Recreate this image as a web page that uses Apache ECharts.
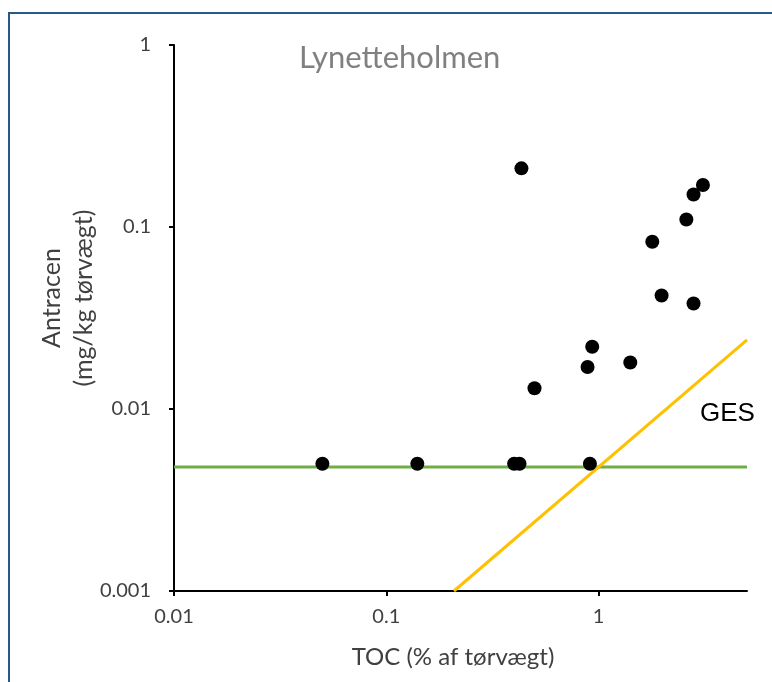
<!DOCTYPE html>
<html>
<head>
<meta charset="utf-8">
<script src="https://cdn.jsdelivr.net/npm/echarts@6/dist/echarts.min.js"></script>
<style>
html,body{margin:0;padding:0;background:#fff;}
#c{width:772px;height:682px;}
</style>
</head>
<body>
<div id="c"></div>
<script>
// Data
var tocValues = [0.05, 0.14, 0.40, 0.424, 0.91, 0.433, 0.499, 0.887, 0.933, 1.41, 1.79, 1.98, 2.59, 2.80, 2.80, 3.10];
var antracenValues = [0.005, 0.005, 0.005, 0.005, 0.005, 0.21, 0.013, 0.017, 0.022, 0.018, 0.083, 0.042, 0.11, 0.038, 0.151, 0.170];
var greenLineX = [0.01, 5];
var greenLineY = [0.0048, 0.0048];
var gesLineX = [0.2083, 5];
var gesLineY = [0.001, 0.024];
var xTickLabels = ['0.01', '0.1', '1'];
var yTickLabels = ['0.001', '0.01', '0.1', '1'];

var FONT = 'Lato';
var chart = echarts.init(document.getElementById('c'), null, {renderer: 'canvas'});

function zip(a, b) { return a.map(function (v, i) { return [v, b[i]]; }); }

function fmt(v) {
  return Number(v.toPrecision(6)).toString();
}

var option = {
  animation: false,
  backgroundColor: '#fff',
  title: {
    text: 'Lynetteholmen',
    left: 294, top: 37,
    textStyle: {color: '#808080', fontFamily: FONT, fontSize: 31, fontWeight: 'normal'}
  },
  grid: {left: 174, right: 25, top: 45, bottom: 91, containLabel: false},
  xAxis: {
    type: 'log', logBase: 10, min: 0.01, max: 5,
    axisLine: {lineStyle: {color: '#000', width: 2}},
    axisTick: {show: true, length: 5, lineStyle: {color: '#000', width: 2}},
    axisLabel: {
      color: '#404040', fontFamily: FONT, fontSize: 20, margin: 16, showMaxLabel: false,
      formatter: function (v) { var s = fmt(v); return xTickLabels.indexOf(s) >= 0 ? s : ''; }
    },
    splitLine: {show: false}
  },
  yAxis: {
    type: 'log', logBase: 10, min: 0.001, max: 1,
    axisLine: {lineStyle: {color: '#000', width: 2}},
    axisTick: {show: true, length: 5, lineStyle: {color: '#000', width: 2}},
    axisLabel: {
      color: '#404040', fontFamily: FONT, fontSize: 20, margin: 23,
      formatter: function (v) { var s = fmt(v); return yTickLabels.indexOf(s) >= 0 ? s : ''; }
    },
    splitLine: {show: false}
  },
  graphic: [
    {type: 'rect', silent: true, z: -1,
     shape: {x: 9, y: 13, width: 1600, height: 1400},
     style: {fill: null, stroke: '#27598a', lineWidth: 2}},
    {type: 'text', silent: true,
     x: 453, y: 657,
     style: {text: 'TOC (% af tørvægt)', fill: '#404040', font: '24px ' + FONT, textAlign: 'center', textVerticalAlign: 'middle'}},
    {type: 'text', silent: true,
     x: 52, y: 298, rotation: Math.PI / 2,
     style: {text: 'Antracen', fill: '#404040', font: '25px ' + FONT, textAlign: 'center', textVerticalAlign: 'middle'}},
    {type: 'text', silent: true,
     x: 84, y: 298, rotation: Math.PI / 2,
     style: {text: '(mg/kg tørvægt)', fill: '#404040', font: '25px ' + FONT, textAlign: 'center', textVerticalAlign: 'middle'}},
    {type: 'text', silent: true,
     x: 700, y: 414,
     style: {text: 'GES', fill: '#000', font: '26px Liberation Sans', textAlign: 'left', textVerticalAlign: 'middle'}}
  ],
  series: [
    {type: 'line', data: zip(greenLineX, greenLineY), symbol: 'none', z: 1,
     lineStyle: {color: '#70ad47', width: 3}},
    {type: 'line', data: zip(gesLineX, gesLineY), symbol: 'none', z: 1,
     lineStyle: {color: '#ffc000', width: 3}},
    {type: 'scatter', data: zip(tocValues, antracenValues), symbol: 'circle', symbolSize: 14, z: 3,
     itemStyle: {color: '#000', opacity: 1}}
  ]
};
chart.setOption(option);
</script>
</body>
</html>
